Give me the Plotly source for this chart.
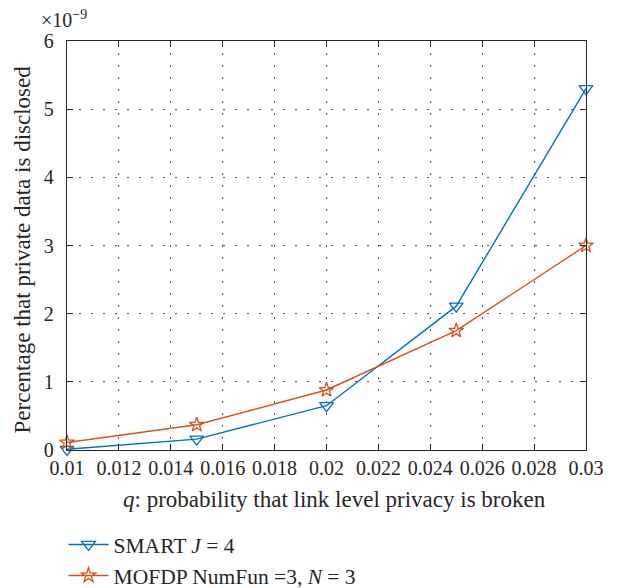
import plotly.graph_objects as go

q_values = [0.01, 0.015, 0.02, 0.025, 0.03]
smart_values = [0.01, 0.16, 0.65, 2.11, 5.3]
mofdp_values = [0.11, 0.37, 0.88, 1.75, 3.0]

x_tick_vals = [0.01, 0.012, 0.014, 0.016, 0.018, 0.02, 0.022, 0.024, 0.026, 0.028, 0.03]
x_tick_text = ["0.01", "0.012", "0.014", "0.016", "0.018", "0.02", "0.022", "0.024", "0.026", "0.028", "0.03"]
y_tick_vals = [0, 1, 2, 3, 4, 5, 6]

BLUE = "#0072BD"
ORANGE = "#D95319"
FONT = "Liberation Serif"
FS = 20
TITLE_FS = 23
LEG_FS = 21.5
TXT = "#262626"

fig = go.Figure()
fig.add_trace(go.Scatter(
    x=q_values, y=smart_values, mode="lines+markers",
    name="SMART <i>J</i> = 4",
    line=dict(color=BLUE, width=1.4),
    marker=dict(symbol="triangle-down-open", size=12, color=BLUE, line=dict(width=1.3)),
    cliponaxis=False,
))
fig.add_trace(go.Scatter(
    x=q_values, y=mofdp_values, mode="lines+markers",
    name="MOFDP NumFun =3, <i>N</i> = 3",
    line=dict(color=ORANGE, width=1.4),
    marker=dict(symbol="star-open", size=11, color=ORANGE, line=dict(width=1.3)),
    cliponaxis=False,
))

axis_common = dict(
    showline=True, linecolor=TXT, linewidth=1.3, mirror="ticks",
    ticks="inside", ticklen=6, tickcolor=TXT, tickwidth=1,
    showgrid=True, gridcolor="#555555", gridwidth=1, griddash="2px,10px",
    zeroline=False,
    tickfont=dict(family=FONT, size=FS, color=TXT),
)

# page body has an 8px default margin, so margins are reduced by 8px
fig.update_layout(
    width=617, height=588,
    margin=dict(l=59, r=39, t=33, b=146, autoexpand=False),
    paper_bgcolor="white", plot_bgcolor="white",
    font=dict(family=FONT, size=FS, color=TXT),
    xaxis=dict(range=[0.01, 0.03], tickvals=x_tick_vals, ticktext=x_tick_text,
               tickangle=0, **axis_common),
    yaxis=dict(range=[0, 6], tickvals=y_tick_vals, ticklabelstandoff=8, **axis_common),
    legend=dict(xref="container", yref="container", x=0.09, y=1 - 516 / 588,
                xanchor="left", yanchor="top",
                font=dict(family=FONT, size=LEG_FS, color=TXT), tracegroupgap=0,
                bgcolor="rgba(0,0,0,0)", itemwidth=40),
    annotations=[
        dict(text="×10<sup>−9</sup>", xref="paper", yref="paper",
             x=-0.054, y=1.02, xanchor="left", yanchor="bottom",
             showarrow=False, font=dict(family=FONT, size=20, color=TXT)),
        dict(text="<i>q</i>: probability that link level privacy is broken",
             xref="paper", yref="paper", x=0.516, y=-0.122,
             xanchor="center", yanchor="middle", showarrow=False,
             font=dict(family=FONT, size=TITLE_FS, color=TXT)),
        dict(text="Percentage that private data is disclosed",
             xref="paper", yref="paper", x=-0.085, y=0.49, textangle=-90,
             xanchor="center", yanchor="middle", showarrow=False,
             font=dict(family=FONT, size=TITLE_FS, color=TXT)),
    ],
)

fig.write_html("out.html")
